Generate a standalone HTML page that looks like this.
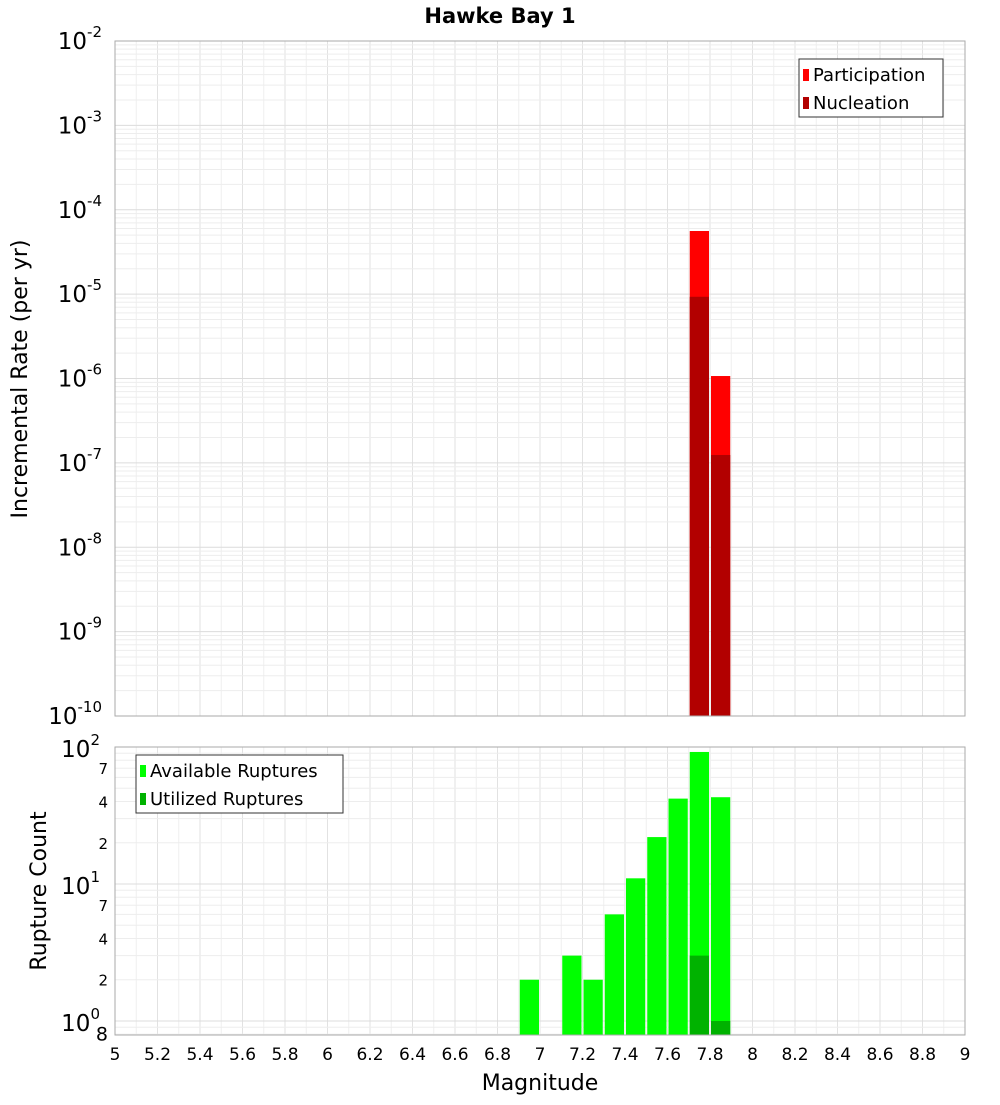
<!DOCTYPE html>
<html><head><meta charset="utf-8"><style>
body{margin:0;background:#fff;}
svg text{font-family:"DejaVu Sans","Liberation Sans",sans-serif;}
</style></head><body>
<svg id="c" width="1000" height="1100" xmlns="http://www.w3.org/2000/svg">
<text x="500" y="23" text-anchor="middle" font-size="21" font-weight="bold">Hawke Bay 1</text>
<text transform="translate(27,379) rotate(-90)" text-anchor="middle" font-size="22">Incremental Rate (per yr)</text>
<text transform="translate(46,891) rotate(-90)" text-anchor="middle" font-size="22">Rupture Count</text>
<text x="540" y="1090" text-anchor="middle" font-size="22">Magnitude</text>
<g id="topg"></g><g id="botg"></g>
</svg>
<script>
const mags=[7.75,7.85];
const participation=[5.6e-5,1.07e-6];
const nucleation=[9.3e-6,1.24e-7];
const countMags=[6.95,7.15,7.25,7.35,7.45,7.55,7.65,7.75,7.85];
const available=[2,3,2,6,11,22,42,92,43];
const utilMags=[7.75,7.85];
const utilized=[3,1];
const xTicks=[5,5.2,5.4,5.6,5.8,6,6.2,6.4,6.6,6.8,7,7.2,7.4,7.6,7.8,8,8.2,8.4,8.6,8.8,9];
const topExps=[-10,-9,-8,-7,-6,-5,-4,-3,-2];
const botMinorLabels=[2,4,7,20,40,70];

const NS="http://www.w3.org/2000/svg";
const L=115,R=965;
const X=m=>L+(m-5)*(R-L)/4;
const T0=41,T1=716;
const Yt=v=>T1-(Math.log10(v)+10)*(T1-T0)/8;
const B0=747,B1=1035;
const bmin=Math.log10(0.79),bmax=2;
const Yb=v=>B1-(Math.log10(v)-bmin)*(B1-B0)/(bmax-bmin);
function el(p,tag,a,txt){const e=document.createElementNS(NS,tag);for(const k in a)e.setAttribute(k,a[k]);if(txt!==undefined)e.textContent=txt;p.appendChild(e);return e;}
const topG=document.getElementById('topg'),botG=document.getElementById('botg');
function grid(g,y0,y1,yfn,decs){
  for(let m=5;m<=9.0001;m+=0.1){const x=X(m);const l=el(g,'line',{x1:x,x2:x,y1:y0,y2:y1,stroke:Math.abs(m*5-Math.round(m*5))<1e-6?'#e2e2e2':'#efefef','stroke-width':1});
    
    }
  decs.forEach(d=>{for(let k=1;k<10;k++){const v=k*Math.pow(10,d);const y=yfn(v);if(y<y0-0.5||y>y1+0.5)continue;
    const l=el(g,'line',{x1:L,x2:R,y1:y,y2:y,stroke:k==1?'#dcdcdc':'#ededed','stroke-width':1});
    
    }});
}
grid(topG,T0,T1,Yt,[-10,-9,-8,-7,-6,-5,-4,-3,-2]);
grid(botG,B0,B1,Yb,[-1,0,1,2]);
mags.forEach((m,i)=>{
  const x=X(m-0.05)+1,w=X(m+0.05)-X(m-0.05)-2;
  let r=el(topG,'rect',{x:x,y:Yt(participation[i]),width:w,height:T1-Yt(participation[i]),fill:'#ff0000'});
  
  
  r=el(topG,'rect',{x:x,y:Yt(nucleation[i]),width:w,height:T1-Yt(nucleation[i]),fill:'#b20000'});
  
  
});
countMags.forEach((m,i)=>{
  const x=X(m-0.05)+1,w=X(m+0.05)-X(m-0.05)-2;
  const r=el(botG,'rect',{x:x,y:Yb(available[i]),width:w,height:B1-Yb(available[i]),fill:'#00ff00'});
  
  
});
utilMags.forEach((m,i)=>{
  const x=X(m-0.05)+1,w=X(m+0.05)-X(m-0.05)-2;
  const r=el(botG,'rect',{x:x,y:Yb(utilized[i]),width:w,height:B1-Yb(utilized[i]),fill:'#00b200'});
  
  
});
let f=el(topG,'rect',{x:L,y:T0,width:R-L,height:T1-T0,fill:'none',stroke:'#aaa'});


f=el(botG,'rect',{x:L,y:B0,width:R-L,height:B1-B0,fill:'none',stroke:'#aaa'});


topExps.forEach(e=>{
  const y=Yt(Math.pow(10,e));
  const t=el(topG,'text',{x:102,y:y+8,'text-anchor':'end','font-size':23});
  
  
  el(t,'tspan',{},'10');el(t,'tspan',{dy:-12,'font-size':15},String(e));
});
[0,1,2].forEach(e=>{
  const y=Yb(Math.pow(10,e));
  const t=el(botG,'text',{x:100,y:y+10,'text-anchor':'end','font-size':23});
  
  
  el(t,'tspan',{},'10');el(t,'tspan',{dy:-12,'font-size':15},String(e));
});
botMinorLabels.concat([0.8]).forEach(v=>{
  const y=Yb(v);
  const lab=v>=10?String(v/10):(v<1?String(v*10):String(v));
  const t=el(botG,'text',{x:108,y:y+6,'text-anchor':'end','font-size':v<1?19:15},lab);
  
  
});
xTicks.forEach(m=>{
  const t=el(botG,'text',{x:X(m),y:1060,'text-anchor':'middle','font-size':17},String(m));
  
  
});
function legend(g,x,y,w,items,name){
  const lg=el(g,'g',{});
  
  
  el(lg,'rect',{x:x,y:y,width:w,height:58,fill:'#fff',stroke:'#333'});
  items.forEach((it,i)=>{
    el(lg,'rect',{x:x+4,y:y+10+i*28,width:6,height:12,fill:it[1]});
    const t=el(lg,'text',{x:x+14,y:y+22+i*28,'font-size':18},it[0]);
    
    
  });
}
legend(topG,799,59,144,[['Participation','#ff0000'],['Nucleation','#b20000']],'top-legend');
legend(botG,136,755,207,[['Available Ruptures','#00ff00'],['Utilized Ruptures','#00b200']],'bottom-legend');
</script>
</body></html>
